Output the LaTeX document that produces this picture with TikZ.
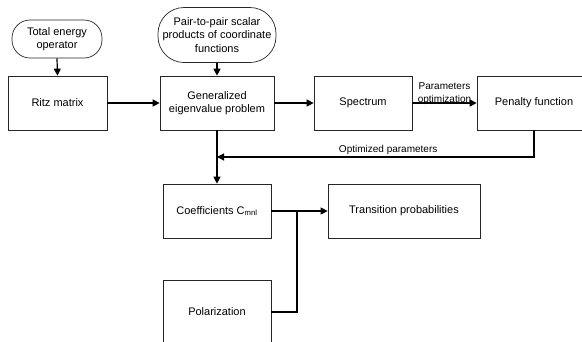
\documentclass[tikz,border=0pt]{standalone}
\usepackage{fontspec}
\setmainfont{Liberation Sans}
\usetikzlibrary{arrows.meta}
\usetikzlibrary{calc}

\begin{document}
\begin{tikzpicture}[x=1pt,y=-1pt,
	box/.style={draw=black!85,line width=0.7pt,minimum height=54pt,inner sep=2pt,align=center,font=\fontsize{11}{13.3}\selectfont},
	term/.style={box,minimum height=38pt,rounded corners=18pt},
	flow/.style={line width=1.2pt,-{Triangle[length=7pt,width=7pt]}},
	link/.style={line width=1.2pt},
	lbl/.style={font=\fontsize{10}{13}\selectfont,inner sep=1pt}]
	\useasboundingbox (0,0) rectangle (582,341);
	%\draw[style=help lines,gray!50] (0,0) grid[step=20pt] (582,341);
	\node[term,minimum width=90pt] at (57,39) (energy) {Total energy\\operator};
	\node[term,minimum width=118pt,minimum height=55pt,rounded corners=26pt] at (217,35) (scalar) {Pair-to-pair scalar\\products of coordinate\\functions};
	\node[box,minimum width=99pt] at (57.5,103) (ritz) {Ritz matrix};
	\node[box,minimum width=114pt] at (217,103) (gep) {Generalized\\eigenvalue problem};
	\node[box,minimum width=98pt] at (363,103) (spec) {Spectrum};
	\node[box,minimum width=114pt] at (534,103) (pen) {Penalty function};
	\node[box,minimum width=108pt] at (217,211) (coef) {Coefficients C\textsubscript{mnl}};
	\node[box,minimum width=108pt,minimum height=64pt] at (217,312) (pol) {Polarization};
	\node[box,minimum width=152pt] at (404,211) (trans) {Transition probabilities};

	\coordinate (fb) at (217,157);
	\coordinate (jn) at (297,211);

	\draw[flow] (energy.south) -- (ritz.north);
	\draw[flow] (scalar.south) -- (gep.north);
	\draw[flow] (ritz.east) -- (gep.west);
	\draw[flow] (gep.east) -- (spec.west);
	\draw[flow] (spec.east) -- node[lbl,above,yshift=-3pt,align=center] {Parameters\\optimization} (pen.west);
	\draw[flow] (pen.south) |- node[lbl,pos=0.73,above,yshift=1pt] {Optimized parameters} (fb);
	\draw[flow] (gep.south) -- (coef.north);

	\draw[link] (coef.east) -- (jn);
	\draw[flow] (jn) -- (trans.west);
	\draw[link] (pol.east) -| (jn);
\end{tikzpicture}
\end{document}
